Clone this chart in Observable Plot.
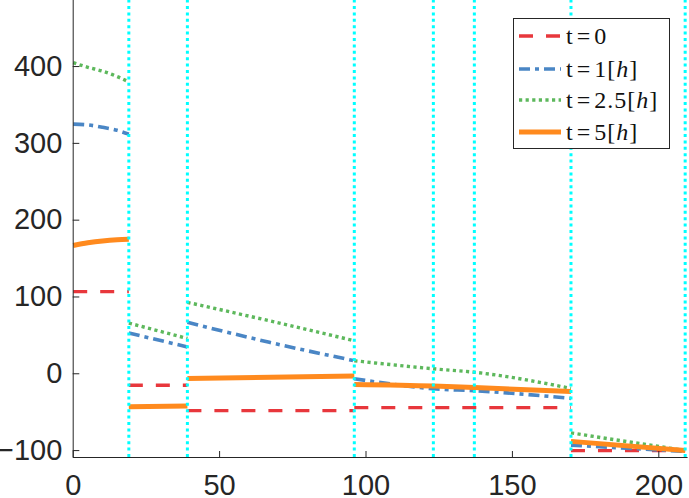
<!DOCTYPE html>
<html>
<head>
<meta charset="utf-8">
<script src="https://cdn.jsdelivr.net/npm/d3@7"></script>
<script src="https://cdn.jsdelivr.net/npm/@observablehq/plot@0.6"></script>
<style>
  html, body { margin: 0; padding: 0; background: #fff; }
  #wrap { position: relative; width: 689px; height: 498px; overflow: hidden; }
  #legend {
    position: absolute; left: 513px; top: 18px; width: 155px; height: 129px;
    background: #fff; border: 1px solid #262626; box-sizing: content-box;
    font-family: "Liberation Serif", "Times New Roman", serif; font-size: 24px; color: #111;
    letter-spacing: 1px;
  }
  .row { position: absolute; left: 0; height: 30px; display: flex; align-items: center; white-space: nowrap; }
  .row svg { margin-left: 5px; margin-right: 5px; }
  .eq { margin: 0 3px; }
</style>
</head>
<body>
<div id="wrap"><div id="legend"></div></div>
<script>
// ---- data ----
const xTicks = [0, 50, 100, 150, 200];
const yTicks = [-100, 0, 100, 200, 300, 400];
const breaks = [19, 39, 96, 123, 137, 170, 209];

const seriesNames = ["t=0", "t=1[h]", "t=2.5[h]", "t=5[h]"];

// each series: list of segments, each segment a list of [x, y]
const t0 = [
  [[0, 107], [19, 107]],
  [[19, -15], [39, -15]],
  [[39, -48], [96, -48]],
  [[96, -44], [170, -44]],
  [[170, -100], [209, -100]]
];
const t1 = [
  [[0, 325], [5, 324], [10, 321], [15, 317], [19, 312]],
  [[19, 53], [39, 35]],
  [[39, 67], [67, 41], [96, 17]],
  [[96, -6.5], [112, -15], [123, -19.5], [137, -22], [170, -32]],
  [[170, -93], [209, -101]]
];
const t25 = [
  [[0, 405], [5, 399], [10, 394], [15, 387], [19, 380]],
  [[19, 66], [39, 46]],
  [[39, 93], [67, 69], [96, 43]],
  [[96, 17], [123, 6.5], [137, 2], [170, -19]],
  [[170, -77], [209, -100]]
];
const t5 = [
  [[0, 167], [5, 170.5], [10, 173], [15, 174.5], [19, 175]],
  [[19, -43], [39, -42]],
  [[39, -6], [96, -3]],
  [[96, -14], [123, -16], [137, -18], [170, -23]],
  [[170, -88], [209, -100]]
];

// ---- styles ----
const styles = [
  {color: "#e8373c", width: 3.4, dash: "14,13"},
  {color: "#4a86c5", width: 3.6, dash: "11,5,4,5"},
  {color: "#5db85c", width: 3.4, dash: "3.2,3.4"},
  {color: "#ff8a1e", width: 5, dash: null}
];

function rows(series) {
  const out = [];
  series.forEach((seg, si) => seg.forEach(([x, y]) => out.push({x, y, seg: si})));
  return out;
}
const allSeries = [t0, t1, t25, t5];

const yDomain = [-109, 486];

const lineMarks = allSeries.map((s, i) => Plot.line(rows(s), {
  x: "x", y: "y", z: "seg",
  stroke: styles[i].color,
  strokeWidth: styles[i].width,
  strokeDasharray: styles[i].dash,
  strokeLinecap: "butt",
  strokeLinejoin: "round",
  curve: "monotone-x"
}));

const plot = Plot.plot({
  width: 689,
  height: 498,
  marginLeft: 72.7,
  marginRight: 1.4,
  marginTop: 0,
  marginBottom: 41,
  x: {domain: [0, 210]},
  y: {domain: yDomain},
  style: {fontFamily: "'Liberation Sans', Arial, Helvetica, sans-serif", background: "white", overflow: "visible"},
  marks: [
    ...lineMarks,
    Plot.ruleX(breaks, {y1: yDomain[0], y2: yDomain[1], stroke: "#00ffff", strokeWidth: 3, strokeDasharray: "3,3.4"}),
    Plot.ruleX([0], {stroke: "#262626", strokeWidth: 1}),
    Plot.ruleY([yDomain[0]], {stroke: "#262626", strokeWidth: 1}),
    Plot.axisY({ticks: yTicks, tickSize: -6.6, tickPadding: 17.5, fontSize: 29, color: "#262626", label: null, strokeWidth: 1}),
    Plot.axisX({ticks: xTicks, tickSize: -6, tickPadding: 23, fontSize: 29, color: "#262626", label: null, strokeWidth: 1})
  ]
});
document.getElementById("wrap").prepend(plot);

// ---- legend ----
const legend = document.getElementById("legend");
const labelsHtml = [
  't<span class="eq">=</span>0',
  't<span class="eq">=</span>1[<i>h</i>]',
  't<span class="eq">=</span>2.5[<i>h</i>]',
  't<span class="eq">=</span>5[<i>h</i>]'
];
const rowTops = [2, 35, 66, 98];
seriesNames.forEach((name, i) => {
  const row = document.createElement("div");
  row.className = "row";
  row.style.top = rowTops[i] + "px";
  const st = styles[i];
  row.innerHTML =
    `<svg width="42" height="10"><line x1="0" y1="5" x2="42" y2="5" stroke="${st.color}" stroke-width="${st.width}" ${st.dash ? `stroke-dasharray="${st.dash}"` : ""} stroke-linecap="butt"/></svg>` +
    `<span>${labelsHtml[i]}</span>`;
  legend.appendChild(row);
});
</script>
</body>
</html>
